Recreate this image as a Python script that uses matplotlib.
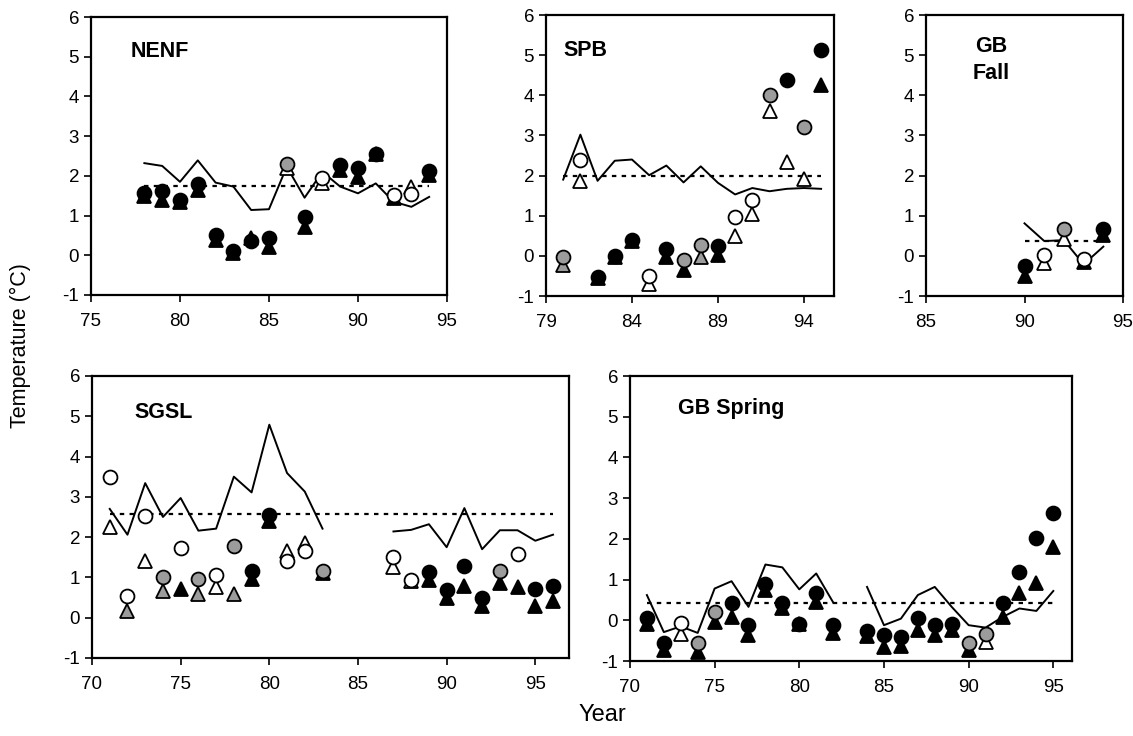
import numpy as np
import matplotlib.pyplot as plt

plt.rcParams['font.family'] = ['Liberation Sans', 'DejaVu Sans']
plt.rcParams['axes.unicode_minus'] = False

nan = np.nan

# NENF
nenf_years = [78, 79, 80, 81, 82, 83, 84, 85, 86, 87, 88, 89, 90, 91, 92, 93, 94]
nenf_line = [2.32, 2.25, 1.85, 2.39, 1.83, 1.73, 1.14, 1.16, 2.23, 1.45, 2.10, 1.73, 1.56, 1.81, 1.35, 1.22, 1.47]
nenf_circ = [1.57, 1.62, 1.39, 1.79, 0.51, 0.11, 0.37, 0.44, 2.31, 0.97, 1.94, 2.27, 2.19, 2.55, 1.52, 1.55, 2.13]
nenf_circ_c = list('kkkkkkkkgkwkkkwwk')
nenf_tri = [1.50, 1.39, 1.33, 1.64, 0.38, 0.05, 0.43, 0.21, 2.20, 0.72, 1.81, 2.15, 1.98, 2.55, 1.45, 1.73, 2.02]
nenf_tri_c = list('kkkkkkkkwkwkkkkwk')
nenf_mean = 1.74

# SPB
spb_years = [80, 81, 82, 83, 84, 85, 86, 87, 88, 89, 90, 91, 92, 93, 94, 95]
spb_line = [1.90, 3.02, 1.87, 2.37, 2.40, 2.01, 2.25, 1.83, 2.23, 1.82, 1.53, 1.69, 1.61, 1.67, 1.69, 1.67]
spb_circ = [-0.03, 2.40, -0.53, 0.00, 0.39, -0.50, 0.16, -0.11, 0.27, 0.24, 0.97, 1.40, 4.01, 4.38, 3.22, 5.13]
spb_circ_c = list('gwkkkwkggkwwgkgk')
spb_tri = [-0.23, 1.86, -0.55, -0.03, 0.37, -0.71, -0.03, -0.34, -0.02, 0.02, 0.49, 1.05, 3.60, 2.33, 1.92, 4.26]
spb_tri_c = list('gwkkkwkkgkwwwwwk')
spb_mean = 1.98

# GB Fall
gbf_years = [90, 91, 92, 93, 94]
gbf_line = [0.81, 0.37, 0.39, -0.21, 0.23]
gbf_circ = [-0.26, 0.03, 0.67, -0.07, 0.66]
gbf_circ_c = list('kwgwk')
gbf_tri = [-0.50, -0.17, 0.42, -0.15, 0.53]
gbf_tri_c = list('kwwkk')
gbf_mean = 0.37

# SGSL
sgsl_line_years = list(range(71, 97))
sgsl_line = [2.70, 2.06, 3.34, 2.50, 2.97, 2.16, 2.21, 3.50, 3.11, 4.79, 3.59, 3.13, 2.21,
             nan, nan, nan, 2.14, 2.18, 2.32, 1.75, 2.72, 1.70, 2.17, 2.17, 1.91, 2.06]
sgsl_years = list(range(71, 84)) + list(range(87, 97))
sgsl_circ = [3.50, 0.55, 2.53, 1.02, 1.73, 0.97, 1.07, 1.79, 1.17, 2.55, 1.40, 1.66, 1.15,
             1.50, 0.93, 1.13, 0.69, 1.29, 0.49, 1.15, 1.58, 0.71, 0.79]
sgsl_circ_c = list('wwwgwgwgkkwwg') + list('wwkkkkgwkk')
sgsl_tri = [2.24, 0.16, 1.40, 0.66, 0.72, 0.59, 0.76, 0.59, 0.96, 2.39, 1.66, 1.85, 1.10,
            1.27, 0.90, 0.93, 0.50, 0.79, 0.28, 0.86, 0.76, 0.28, 0.42]
sgsl_tri_c = list('wgwgkgwgkkwwk') + list('wgkkkkkkkk')
sgsl_mean = 2.58

# GB Spring
gbs_line_years = list(range(71, 96))
gbs_line = [0.62, -0.29, -0.15, -0.31, 0.78, 0.96, 0.33, 1.37, 1.30, 0.76, 1.15, 0.44, nan,
            0.82, -0.12, 0.04, 0.62, 0.82, 0.33, -0.12, -0.18, 0.08, 0.29, 0.23, 0.72]
gbs_years = list(range(71, 83)) + list(range(84, 96))
gbs_circ = [0.06, -0.57, -0.06, -0.56, 0.21, 0.43, -0.11, 0.88, 0.43, -0.08, 0.66, -0.12,
            -0.27, -0.35, -0.41, 0.06, -0.11, -0.08, -0.56, -0.33, 0.43, 1.19, 2.01, 2.63]
gbs_circ_c = list('kkwggkkkkkkk') + list('kkkkkkggkkkk')
gbs_tri = [-0.08, -0.74, -0.33, -0.78, -0.04, 0.08, -0.37, 0.74, 0.29, -0.10, 0.45, -0.31,
           -0.39, -0.66, -0.64, -0.23, -0.37, -0.25, -0.74, -0.53, 0.08, 0.66, 0.92, 1.79]
gbs_tri_c = list('kkwkkkkkkkkk') + list('kkkkkkkwkkkk')
gbs_mean = 0.43

colors = {'k': 'black', 'g': '#9c9c9c', 'w': 'white'}


def draw_panel(rect, years, circ, circ_c, tri, tri_c, line_years, line, mean,
               xlim, xticks, title, title_pos):
    ax = fig.add_axes(rect)
    ax.plot(line_years, line, color='black', lw=1.4, zorder=2)
    # long-term mean
    ax.plot([line_years[0], line_years[-1]], [mean, mean], color='black', lw=1.6,
            linestyle=(0, (2, 2.4)), zorder=2)
    for x, y, c in zip(years, tri, tri_c):
        ax.plot(x, y, marker='^', ms=9.5, mfc=colors[c], mec='black', mew=1.3, zorder=3)
    for x, y, c in zip(years, circ, circ_c):
        ax.plot(x, y, marker='o', ms=10, mfc=colors[c], mec='black', mew=1.3, zorder=4)
    ax.set_xlim(*xlim)
    ax.set_ylim(-1, 6)
    ax.set_xticks(xticks)
    ax.set_yticks(range(-1, 7))
    ax.tick_params(direction='out', length=5, width=1.2, labelsize=13.5)
    ax.tick_params(axis='x', pad=8)
    for s in ax.spines.values():
        s.set_linewidth(1.6)
    ax.text(title_pos[0], title_pos[1], title, transform=ax.transAxes, fontsize=15.5,
            fontweight='bold', va='center', ha=title_pos[2], linespacing=1.4)
    return ax


fig = plt.figure(figsize=(11.33, 7.36), dpi=100)

draw_panel([0.0803, 0.5992, 0.3142, 0.3777], nenf_years, nenf_circ, nenf_circ_c,
           nenf_tri, nenf_tri_c, nenf_years, nenf_line, nenf_mean,
           (75, 95), [75, 80, 85, 90, 95], 'NENF', (0.11, 0.875, 'left'))
draw_panel([0.4819, 0.5978, 0.2542, 0.3818], spb_years, spb_circ, spb_circ_c,
           spb_tri, spb_tri_c, spb_years, spb_line, spb_mean,
           (79, 95.75), [79, 84, 89, 94], 'SPB', (0.06, 0.875, 'left'))
draw_panel([0.8173, 0.5978, 0.1739, 0.3818], gbf_years, gbf_circ, gbf_circ_c,
           gbf_tri, gbf_tri_c, gbf_years, gbf_line, gbf_mean,
           (85, 95), [85, 90, 95], 'GB\nFall', (0.33, 0.84, 'center'))
draw_panel([0.0812, 0.1060, 0.4210, 0.3832], sgsl_years, sgsl_circ, sgsl_circ_c,
           sgsl_tri, sgsl_tri_c, sgsl_line_years, sgsl_line, sgsl_mean,
           (70, 96.9), [70, 75, 80, 85, 90, 95], 'SGSL', (0.088, 0.87, 'left'))
draw_panel([0.5560, 0.1019, 0.3901, 0.3872], gbs_years, gbs_circ, gbs_circ_c,
           gbs_tri, gbs_tri_c, gbs_line_years, gbs_line, gbs_mean,
           (70, 96.1), [70, 75, 80, 85, 90, 95], 'GB Spring', (0.109, 0.885, 'left'))

fig.text(0.018, 0.53, 'Temperature (°C)', rotation=90, fontsize=15.5, va='center', ha='center')
fig.text(0.532, 0.028, 'Year', fontsize=17, va='center', ha='center')

plt.savefig('out.png', dpi=100)
